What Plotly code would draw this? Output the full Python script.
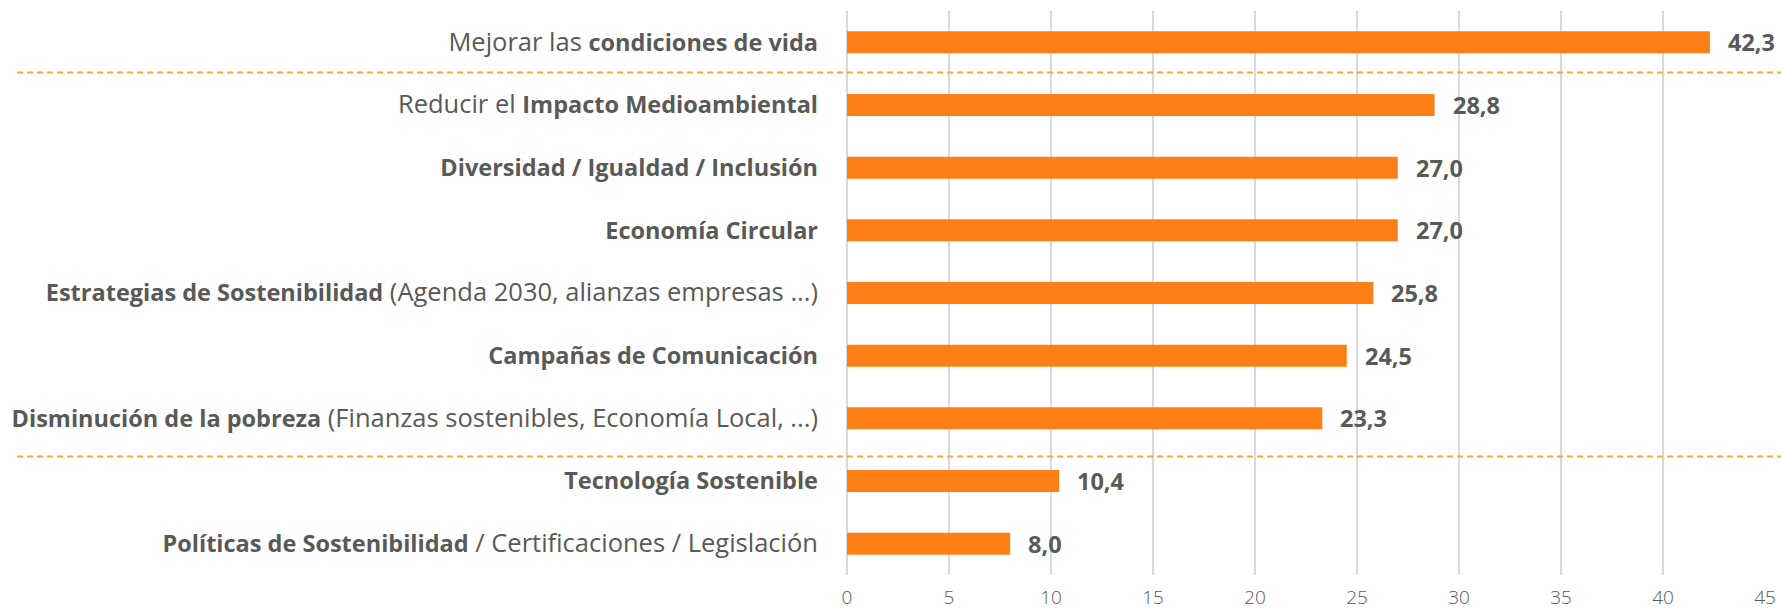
import plotly.graph_objects as go

label_prefix = ["Mejorar las ", "Reducir el ", "", "", "", "", "", "", ""]
label_bold = [
    "condiciones de vida",
    "Impacto Medioambiental",
    "Diversidad / Igualdad / Inclusión",
    "Economía Circular",
    "Estrategias de Sostenibilidad",
    "Campañas de Comunicación",
    "Disminución de la pobreza",
    "Tecnología Sostenible",
    "Políticas de Sostenibilidad",
]
label_suffix = [
    "", "", "", "",
    " (Agenda 2030, alianzas empresas ...)",
    "",
    " (Finanzas sostenibles, Economía Local, ...)",
    "",
    " / Certificaciones / Legislación",
]
values = [42.3, 28.8, 27.0, 27.0, 25.8, 24.5, 23.3, 10.4, 8.0]
x_ticks = [0, 5, 10, 15, 20, 25, 30, 35, 40, 45]
separator_positions = [0.48, 6.61]

BAR = "#FF7F17"
DASH = "#FFA83A"
TEXT = "#595959"
GRID = "#D9D9D9"
FONT = "Open Sans"
REG_SIZE = 25.5


def reg(s):
    return f'<span style="font-size:{REG_SIZE}px">{s}</span>' if s else ""


categories = [reg(p) + f"<b>{b}</b>" + reg(s)
              for p, b, s in zip(label_prefix, label_bold, label_suffix)]
value_labels = [f"{v:.1f}".replace(".", ",") for v in values]

W, H = 1781, 610
ML, MR, MT, MB = 847, 16, 11, 35

fig = go.Figure()
fig.add_trace(go.Bar(
    x=values, y=categories, orientation="h",
    marker=dict(color=BAR, line=dict(width=0)),
    width=0.35, hoverinfo="skip",
))

for v, c, t in zip(values, categories, value_labels):
    fig.add_annotation(
        x=v, y=c, text=f"<b>{t}</b>", showarrow=False,
        xanchor="left", yanchor="middle", xshift=16,
        font=dict(family=FONT, size=23.5, color=TEXT),
    )

plot_w = W - ML - MR
x0_paper = (17 - ML) / plot_w
for p in separator_positions:
    fig.add_shape(
        type="line", xref="paper", yref="y",
        x0=x0_paper, x1=(W - ML) / plot_w, y0=p, y1=p,
        line=dict(color=DASH, width=2, dash="6px,4px"),
        layer="above",
    )

fig.update_layout(
    width=W, height=H,
    margin=dict(l=ML, r=MR, t=MT, b=MB, autoexpand=False),
    paper_bgcolor="white", plot_bgcolor="white",
    showlegend=False,
    font=dict(family=FONT, color=TEXT),
    xaxis=dict(
        range=[0, 45], tickvals=x_ticks, ticktext=[str(t) for t in x_ticks],
        showgrid=True, gridcolor=GRID, gridwidth=2,
        zeroline=True, zerolinecolor=GRID, zerolinewidth=2,
        ticks="", ticklabelstandoff=9,
        tickfont=dict(family=FONT, size=19, color=TEXT, weight=300),
        showline=False, fixedrange=True, automargin=False,
    ),
    yaxis=dict(
        autorange="reversed", showgrid=False, zeroline=False,
        ticks="", ticklabelstandoff=28,
        tickfont=dict(family=FONT, size=23.5, color=TEXT),
        fixedrange=True, automargin=False,
    ),
)

fig.write_html(
    "out.html",
    config={"displayModeBar": False},
    post_script="document.body.style.margin='0';document.body.style.overflow='hidden';",
)
